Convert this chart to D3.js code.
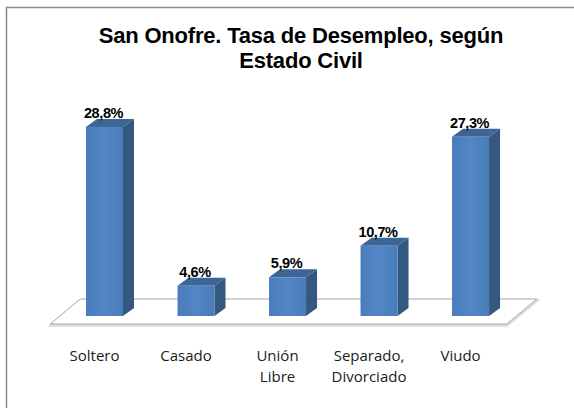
<!DOCTYPE html>
<html><head><meta charset="utf-8">
<script src="https://cdn.jsdelivr.net/npm/d3@7"></script>
<style>
html,body{margin:0;padding:0;background:#fff;}
svg{display:block;}
</style></head>
<body>
<svg id="chart" width="574" height="408"></svg>
<script>
const titleLines = ["San Onofre. Tasa de Desempleo, según", "Estado Civil"];
const categories = ["Soltero", "Casado", "Unión Libre", "Separado, Divorciado", "Viudo"];
const categoryLines = [["Soltero"], ["Casado"], ["Unión", "Libre"], ["Separado,", "Divorciado"], ["Viudo"]];
const values = [28.8, 4.6, 5.9, 10.7, 27.3];
const valueLabels = ["28,8%", "4,6%", "5,9%", "10,7%", "27,3%"];

const svg = d3.select("#chart");
const dx = 11, dy = 8;

const x = d3.scaleBand().domain(categories).range([40.25, 534.8]).paddingInner(0.5956).paddingOuter(0.5);
const y = d3.scaleLinear().domain([0, 30]).range([316, 119]);

// frame
svg.append("rect").attr("x", 6.5).attr("y", 7.5).attr("width", 600).attr("height", 500)
  .attr("fill", "#fff").attr("stroke", "#8c8c8c").attr("stroke-width", 1.5);

// title
const title = svg.append("text").attr("x", 301).attr("y", 43)
  .attr("text-anchor", "middle").attr("font-family", "Liberation Sans, Arial, sans-serif")
  .attr("font-weight", "bold").attr("font-size", 22).attr("letter-spacing", -0.2).attr("fill", "#000");
titleLines.forEach((t, i) => title.append("tspan").attr("x", 301).attr("dy", i === 0 ? 0 : 25).text(t));

// floor
const y0 = y(0);
const r = x.range();
const fl = [[r[0] + 10, y0 + 8], [r[0] + 40, y0 - 17], [r[1] + 2, y0 - 17], [r[1] - 28, y0 + 8]];
svg.append("path").attr("d", d3.line()(fl) + "Z").attr("fill", "none")
  .attr("stroke", "#dcdcdc").attr("stroke-width", 2.5).attr("transform", "translate(0.5,1.5)");
svg.append("path").attr("d", d3.line()(fl) + "Z").attr("fill", "#fff")
  .attr("stroke", "#a6a6a6").attr("stroke-width", 1);

// gradient for front
const defs = svg.append("defs");
const g = defs.append("linearGradient").attr("id", "front").attr("x1", 0).attr("x2", 1).attr("y1", 0).attr("y2", 0);
g.append("stop").attr("offset", "0%").attr("stop-color", "#4a7cbb");
g.append("stop").attr("offset", "50%").attr("stop-color", "#5286c4");
g.append("stop").attr("offset", "100%").attr("stop-color", "#4a7cba");

const bars = svg.append("g").selectAll("g").data(categories).join("g");
bars.each(function (c, i) {
  const gg = d3.select(this);
  const x0 = x(c), w = x.bandwidth(), top = y(values[i]);
  gg.append("path").attr("d", d3.line()([[x0 + w, top], [x0 + w + dx, top - dy], [x0 + w + dx, y0 - dy], [x0 + w, y0]]) + "Z")
    .attr("fill", "#34587f");
  gg.append("path").attr("d", d3.line()([[x0, top], [x0 + dx, top - dy], [x0 + w + dx, top - dy], [x0 + w, top]]) + "Z")
    .attr("fill", "#3d6596");
  gg.append("rect").attr("x", x0).attr("y", top).attr("width", w).attr("height", y0 - top)
    .attr("fill", "url(#front)");
  gg.append("text").attr("x", x0 + w / 2 - 1).attr("y", top - dy - 1)
    .attr("text-anchor", "middle").attr("font-family", "Liberation Sans, Arial, sans-serif")
    .attr("font-weight", "bold").attr("font-size", 14.5).attr("letter-spacing", -0.4)
    .attr("fill", "#000").text(valueLabels[i]);
});

// category labels
categories.forEach((c, i) => {
  const cx = x(c) + x.bandwidth() / 2 - 10;
  const t = svg.append("text").attr("x", cx).attr("y", 361)
    .attr("text-anchor", "middle").attr("font-family", "Open Sans, sans-serif")
    .attr("font-size", 15).attr("fill", "#1a1a1a");
  categoryLines[i].forEach((l, j) => t.append("tspan").attr("x", cx).attr("dy", j === 0 ? 0 : 21).text(l));
});
</script>
</body></html>
